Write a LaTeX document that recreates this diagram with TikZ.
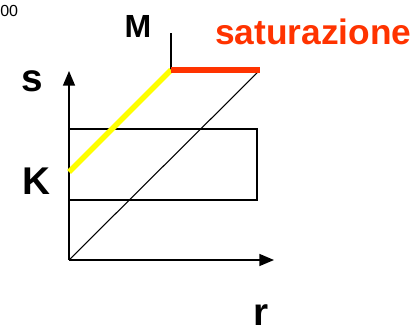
\documentclass[tikz,border=0pt]{standalone}
\usepackage{fontspec}
\setmainfont{Liberation Sans}
\usetikzlibrary{arrows.meta}
\definecolor{satred}{RGB}{255,51,0}
\definecolor{linyellow}{RGB}{255,255,0}
\tikzset{
  axis/.style   = {-{Triangle[length=11pt,width=9pt]},line width=1.1pt},
  thinline/.style = {line width=0.8pt},
  lbl/.style    = {font=\bfseries\fontsize{29}{29}\selectfont,inner sep=0pt},
  yline/.style  = {linyellow,line width=4pt},
  rline/.style  = {satred,line width=4pt},
}
\begin{document}
\begin{tikzpicture}[x=0.75pt,y=-0.75pt]
  \useasboundingbox (0,0) rectangle (416,334);
  % punti principali
  \coordinate (O) at (69,260);
  \coordinate (ytop) at (69,71);
  \coordinate (xend) at (274,260);
  \coordinate (D) at (259,71);
  \coordinate (Kp) at (69,172);
  \coordinate (C) at (171,70);
  \coordinate (R) at (260,70);
  \coordinate (T) at (171,33);
  % assi
  \draw[axis] (O) -- (ytop);
  \draw[axis] (O) -- (xend);
  % fascia
  \draw[thinline] (69,129) rectangle (257,200);
  \draw[thinline] (O) -- (D);
  \draw[thinline] (C) -- (T);
  % tratti colorati
  \draw[yline] (Kp) -- (C);
  \draw[rline] (C) -- (R);
  % etichette
  \node[lbl,anchor=base] (s) at (32,92) {s};
  \node[lbl,anchor=base] (K) at (36,195) {K};
  \node[lbl,anchor=base] (r) at (261,325) {r};
  \node[lbl,anchor=base,font=\bfseries\fontsize{24}{24}\selectfont] (M) at (138,38) {M};
  \node[lbl,anchor=base west,text=satred,font=\bfseries\fontsize{26.5}{26.5}\selectfont] (sat) at (215,45) {saturazione};
  \node[anchor=base west,inner sep=0pt,font=\fontsize{12}{12}\selectfont] (num) at (0,17) {00};
\end{tikzpicture}
\end{document}
